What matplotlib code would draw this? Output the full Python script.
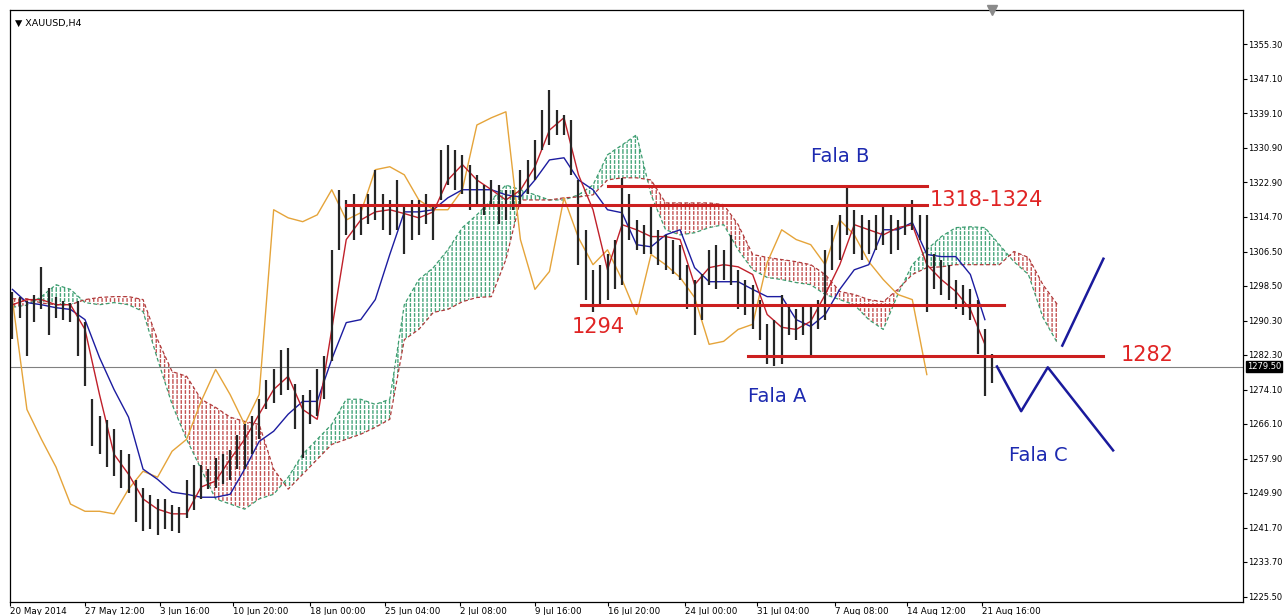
import numpy as np
import matplotlib.pyplot as plt
from matplotlib.transforms import blended_transform_factory

# XAUUSD H4 - price bars (one bar drawn for every 3 H4 candles)
bar_high = [1297, 1296, 1295, 1296.5, 1303, 1298, 1296, 1295, 1294.5, 1295,
            1290, 1272, 1268, 1267, 1265, 1260, 1259, 1253, 1251, 1249.5,
            1248.5, 1248.5, 1247, 1246.5, 1253, 1256.5, 1256.5, 1255.5, 1258, 1259,
            1260, 1263.5, 1266, 1268, 1272, 1276.5, 1279, 1283.5, 1284, 1275.5,
            1273, 1274, 1279, 1282, 1307, 1321, 1318.7, 1320, 1317.6, 1320,
            1325.8, 1320, 1318.7, 1323.4, 1317.6, 1318.7, 1318.7, 1320, 1317.6, 1330.5,
            1331.6, 1330.5, 1329.3, 1327, 1324.6, 1322.2, 1323.4, 1322.2, 1321, 1321,
            1325.8, 1328.1, 1332.8, 1339.8, 1344.5, 1339.8, 1338.7, 1337.5, 1323.4, 1311.7,
            1302.3, 1303.5, 1305.9, 1309.4, 1323.9, 1320, 1314, 1312.9, 1317.6, 1311.7,
            1310.5, 1309.4, 1308.2, 1303.5, 1300, 1301.2, 1307, 1308.2, 1307, 1310.5,
            1302.3, 1300, 1298.8, 1295.3, 1289.5, 1290.6, 1296.5, 1294.2, 1293, 1294.2,
            1294.2, 1295.3, 1307, 1312.9, 1315.2, 1322.2, 1316.4, 1315.2, 1314, 1315.2,
            1317.6, 1315.2, 1314, 1317.6, 1318.7, 1315.2, 1315.2, 1305.9, 1304.7, 1303.5,
            1300, 1298.8, 1297.7, 1295.3, 1288.3, 1282.5]
bar_low = [1286, 1291, 1282, 1290, 1293, 1287, 1291, 1290.5, 1290, 1282,
           1275, 1261, 1259, 1256, 1254, 1251, 1250, 1243, 1241, 1241.5,
           1240, 1241.5, 1241, 1240.5, 1244, 1246, 1248.5, 1250.8, 1251, 1252,
           1253, 1255.5, 1255.5, 1259, 1262.5, 1269.5, 1271, 1273, 1274, 1265,
           1258, 1266, 1268, 1272, 1281, 1307, 1310.5, 1309.4, 1310.5, 1313,
           1314, 1311.7, 1310.5, 1311.7, 1305.9, 1309.4, 1310.5, 1313, 1309.4, 1318.7,
           1322.2, 1321, 1320, 1316.4, 1317.6, 1315.2, 1317.6, 1313, 1314, 1316.4,
           1317.6, 1320, 1323.4, 1330.5, 1331.6, 1334, 1334, 1324.6, 1303.5, 1295.3,
           1292.5, 1294, 1295.3, 1297.7, 1298.8, 1309.4, 1307, 1305.9, 1305.9, 1303.5,
           1302.3, 1301.2, 1300, 1293, 1287, 1290.6, 1298.8, 1297.7, 1300, 1298.8,
           1293, 1291.8, 1288.3, 1285.9, 1280.1, 1279.6, 1280.1, 1287.1, 1285.9, 1287.1,
           1282, 1288.3, 1290.6, 1302.3, 1304.7, 1310.5, 1305.9, 1304.7, 1305.9, 1307,
           1308.2, 1305.9, 1307, 1310.5, 1311.7, 1309.4, 1292.5, 1297.7, 1296.5, 1295.3,
           1293, 1291.8, 1290.6, 1282.5, 1272.6, 1275.7]

# Ichimoku lines, read every 6 H4 candles
tenkan = [1294.1, 1295.3, 1295.3, 1294.1, 1294.1, 1288.3, 1273, 1259, 1254.3, 1248.5,
          1246.1, 1245, 1245, 1251.3, 1252.7, 1257.8, 1262.5, 1268.4, 1274.2, 1277.3,
          1269.5, 1267.2, 1288.3, 1309.4, 1314, 1315.9, 1316.4, 1315.5, 1314.5, 1315.9,
          1323.4, 1327, 1323.4, 1321.1, 1318.7, 1321, 1326.5, 1335.1, 1338, 1324.6,
          1316.4, 1302.3, 1312.9, 1311.7, 1310.1, 1310.1, 1309.4, 1298.8, 1302.8, 1303.5,
          1303, 1301.2, 1291.8, 1288.8, 1288.3, 1290.2, 1296.5, 1303.5, 1312.9, 1311.7,
          1310.5, 1312.2, 1312.9, 1303.5, 1300, 1297.2, 1293, 1284.8]
kijun = [1297.7, 1294.6, 1294.1, 1293.4, 1293, 1290.6, 1281.7, 1274.2, 1267.7, 1255.5,
         1253.1, 1250.1, 1249.6, 1248.9, 1248.9, 1249.6, 1255.5, 1262, 1264.4, 1268.4,
         1271.4, 1271.4, 1281.3, 1289.9, 1290.6, 1295.3, 1305.9, 1315.9, 1315.9, 1316.4,
         1319.2, 1321.1, 1321.1, 1321.1, 1319.9, 1319.4, 1323.4, 1328.1, 1328.6, 1323.4,
         1321.1, 1316.4, 1315.7, 1308.2, 1307.7, 1310.5, 1311.7, 1302.8, 1299.5, 1299.5,
         1299.5, 1297.7, 1296, 1296, 1290.6, 1289, 1291.8, 1297.7, 1302.3, 1303.5,
         1311.7, 1311.7, 1313.4, 1305.9, 1305.4, 1305.4, 1301.2, 1290.6]
chikou = [1295.3, 1269.5, 1262.5, 1256, 1247.3, 1245.6, 1245.6, 1245, 1250.8, 1255,
          1253.6, 1259.7, 1262.5, 1271.4, 1278.9, 1273, 1266, 1273, 1316.4, 1314.5,
          1313.6, 1315.2, 1321.1, 1314, 1315.7, 1325.8, 1326.5, 1324.6, 1318.7, 1316.4,
          1316.4, 1321.1, 1336.3, 1338, 1339.4, 1309.4, 1297.7, 1301.9, 1319.2, 1309.8,
          1303.5, 1307, 1300, 1291.8, 1305.9, 1303.5, 1300.5, 1295.8, 1284.8, 1285.5,
          1288.3, 1289.5, 1304, 1311.7, 1309.4, 1308.2, 1303.5, 1314, 1310.5, 1304.2,
          1300, 1296.5, 1295.3, 1277.7]
span_a = [1293.5, 1294, 1296, 1298.8, 1297.7, 1294.6, 1294.1, 1294.6, 1294.1, 1292.5,
          1281.3, 1270.7, 1262.5, 1255.5, 1248.5, 1247.3, 1246.1, 1248.5, 1249.6, 1253.6,
          1259, 1262.5, 1266, 1271.9, 1271.9, 1270.7, 1271.9, 1294.1, 1300, 1302.8,
          1307, 1312.2, 1315.2, 1318.7, 1322.2, 1321.1, 1319.9, 1318.7, 1318.7, 1319.9,
          1322.2, 1329.3, 1331.6, 1334, 1319.9, 1311.7, 1310.5, 1311, 1312.2, 1312.9,
          1307, 1302.3, 1300.5, 1300, 1299.3, 1298.8, 1296.5, 1295.3, 1294.1, 1290.6,
          1288.3, 1296.5, 1303.5, 1307, 1310.1, 1312.2, 1312.4, 1312.2, 1308.2, 1304.2,
          1301.2, 1291.1, 1285.1]
span_b = [1295.5, 1295.5, 1294.5, 1294.1, 1294.1, 1295.3, 1295.8, 1296, 1296, 1295.3,
          1285.9, 1278.4, 1277.3, 1271.9, 1270, 1267.7, 1266.7, 1266, 1255.5, 1250.8,
          1254.3, 1257.8, 1261.3, 1262.5, 1263.7, 1265.3, 1267.2, 1285.9, 1288.3, 1292.3,
          1293, 1294.8, 1295.8, 1296, 1304.7, 1318.7, 1318.7, 1318.7, 1319.2, 1319.4,
          1319.9, 1323.4, 1323.9, 1323.9, 1323.4, 1318, 1318, 1318, 1318, 1317.6,
          1312.9, 1305.9, 1305.2, 1304.7, 1304.2, 1303.5, 1301.2, 1297.2, 1296.5, 1295.3,
          1294.8, 1297.7, 1301.2, 1302.8, 1303, 1303.5, 1303.5, 1303.5, 1303.5, 1306.6,
          1305.2, 1298.8, 1294.1]

last_price = 1279.50

# drawn levels and wave sketch
level_price = [1322.0, 1317.6, 1294.1, 1282.0]
level_start = [246, 138, 235, 304]
level_end = [378, 378, 410, 451]
wave_c_x = [407, 417, 428, 455]
wave_c_y = [1279.6, 1269.1, 1279.4, 1259.9]
wave_up_x = [434, 451]
wave_up_y = [1284.5, 1304.9]

price_ticks = [1355.3, 1347.1, 1339.1, 1330.9, 1322.9, 1314.7, 1306.5, 1298.5, 1290.3,
               1282.3, 1274.1, 1266.1, 1257.9, 1249.9, 1241.7, 1233.7, 1225.5]
date_pos = [-1, 30, 61, 91, 123, 154, 185, 216, 246, 278, 308, 340, 370, 401]
date_labels = ['20 May 2014', '27 May 12:00', '3 Jun 16:00', '10 Jun 20:00', '18 Jun 00:00',
               '25 Jun 04:00', '2 Jul 08:00', '9 Jul 16:00', '16 Jul 20:00', '24 Jul 00:00',
               '31 Jul 04:00', '7 Aug 08:00', '14 Aug 12:00', '21 Aug 16:00']

plt.rcParams['hatch.linewidth'] = 1.0
fig = plt.figure(figsize=(12.84, 6.15), dpi=100)
ax = fig.add_axes([10 / 1284, 13 / 615, 1233 / 1284, 592 / 615])

x_bar = np.arange(len(bar_high)) * 3
x_line = np.arange(len(span_a)) * 6
a = np.array(span_a)
b = np.array(span_b)

# cloud
ax.fill_between(x_line, a, b, where=a >= b, interpolate=True, facecolor='none',
                edgecolor='#45a57a', hatch='||||', linewidth=0, zorder=1)
ax.fill_between(x_line, a, b, where=b > a, interpolate=True, facecolor='none',
                edgecolor='#c25050', hatch='||||', linewidth=0, zorder=1)
ax.hlines(np.arange(1224.0, 1364.0, 1.2), -5, 520, color='white', lw=0.9, zorder=1.5)
ax.plot(x_line, a, color='#3d9d70', lw=0.9, ls=(0, (3, 2)), zorder=2)
ax.plot(x_line, b, color='#b03a3a', lw=0.9, ls=(0, (3, 2)), zorder=2)

ax.axhline(last_price, color='#808080', lw=0.8, zorder=2)

# lines
ax.plot(np.arange(len(chikou)) * 6, chikou, color='#e5a43a', lw=1.0, zorder=3)
ax.plot(np.arange(len(kijun)) * 6, kijun, color='#1c1ca0', lw=1.0, zorder=3)
ax.plot(np.arange(len(tenkan)) * 6, tenkan, color='#c0202a', lw=1.0, zorder=3)

# price bars
ax.vlines(x_bar, bar_low, bar_high, color='#262626', lw=1.6, zorder=4)

# levels
for p, s, e in zip(level_price, level_start, level_end):
    ax.plot([s, e], [p, p], color='#cc1f1f', lw=2.2, zorder=5)
ax.plot(wave_c_x, wave_c_y, color='#1a1a9c', lw=1.8, zorder=5)
ax.plot(wave_up_x, wave_up_y, color='#1a1a9c', lw=1.8, zorder=5)

red_txt = '#e02424'
blue_txt = '#1d2ab0'
ax.text(379, 1318.7, '1318-1324', color=red_txt, fontsize=15, va='center', zorder=6)
ax.text(231, 1288.8, '1294', color=red_txt, fontsize=15, va='center', zorder=6)
ax.text(458, 1282.4, '1282', color=red_txt, fontsize=15, va='center', zorder=6)
ax.text(330, 1328.8, 'Fala B', color=blue_txt, fontsize=14, va='center', zorder=6)
ax.text(304, 1272.6, 'Fala A', color=blue_txt, fontsize=14, va='center', zorder=6)
ax.text(412, 1258.8, 'Fala C', color=blue_txt, fontsize=14, va='center', zorder=6)

ax.set_xlim(-0.8, 508.7)
ax.set_ylim(1224.3, 1363.3)

ax.yaxis.tick_right()
ax.set_yticks(price_ticks)
ax.set_yticklabels(['%.2f' % v for v in price_ticks], fontsize=6.0)
ax.set_xticks(date_pos)
ax.set_xticklabels(date_labels, fontsize=6.3, ha='left')
ax.tick_params(axis='both', length=3, width=0.8, pad=0.8, colors='black')
for sp in ax.spines.values():
    sp.set_linewidth(0.9)

tr = blended_transform_factory(ax.transAxes, ax.transData)
ax.text(1.003, last_price, '%.2f' % last_price, transform=tr, fontsize=6.0, color='white',
        va='center', ha='left', zorder=7,
        bbox=dict(boxstyle='square,pad=0.12', facecolor='black', edgecolor='black'))

ax.plot(x_bar[-1], 1363.3, marker='v', color='#8a8a8a', ms=7, clip_on=False, zorder=7)
ax.text(0.004, 0.985, '\u25bc XAUUSD,H4', transform=ax.transAxes, fontsize=6.8,
        va='top', ha='left')

fig.savefig('out.png', dpi=100)
